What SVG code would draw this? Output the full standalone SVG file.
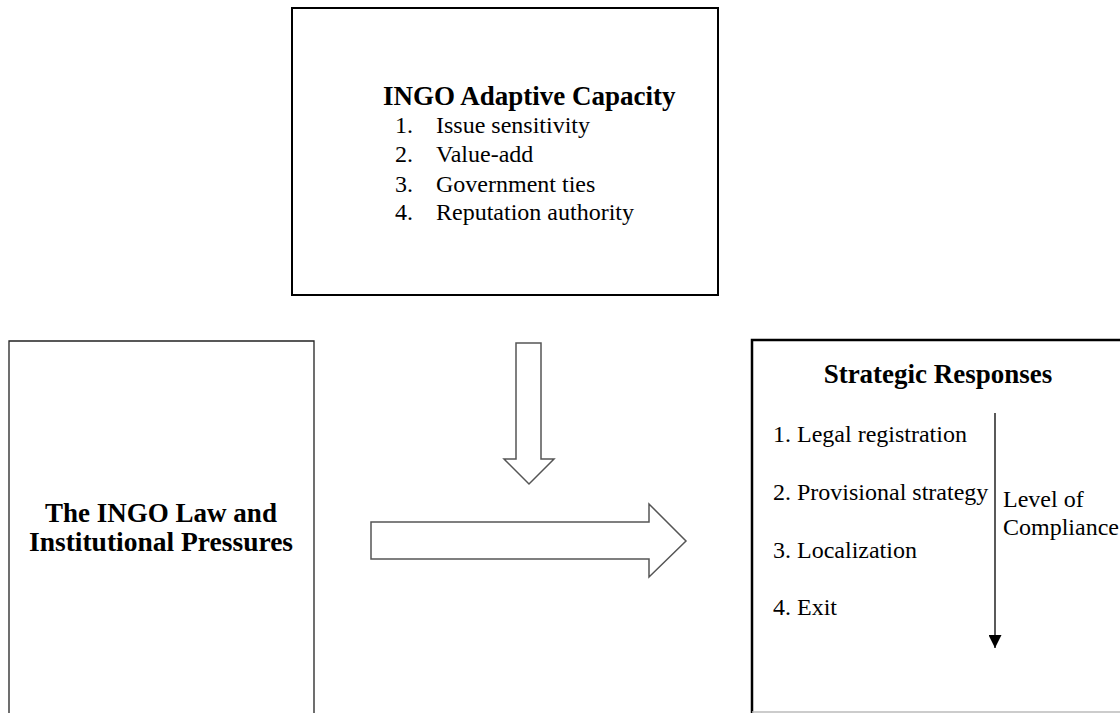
<svg xmlns="http://www.w3.org/2000/svg" width="1120" height="713" viewBox="0 0 1120 713">
<defs>
<style>
.box{fill:#fff;stroke:#000;stroke-width:2}
.thin{fill:#fff;stroke:#222;stroke-width:1.3}
.blk{fill:#fff;stroke:#555;stroke-width:1.5;stroke-linejoin:miter}
text{fill:#000}
.b{font-family:'Liberation Serif','Times New Roman',serif;font-weight:bold;font-size:27px}
.r{font-size:24px}
</style>
<marker id="tri" viewBox="0 0 10 10" refX="10" refY="5" markerWidth="13" markerHeight="13" markerUnits="userSpaceOnUse" orient="auto">
<path d="M0,0 L10,5 L0,10 z" fill="#000"/>
</marker>
</defs>
<rect width="1120" height="713" fill="#fff"/>
<g id="capacity">
<rect class="box" x="292" y="8" width="426" height="287"/>
<text class="b" x="383" y="105">INGO Adaptive Capacity</text>
<g font-family="Tinos, Times, serif">
<text class="r" x="395" y="133">1.</text><text class="r" x="436" y="133">Issue sensitivity</text>
<text class="r" x="395" y="162">2.</text><text class="r" x="436" y="162">Value-add</text>
<text class="r" x="395" y="192">3.</text><text class="r" x="436" y="192">Government ties</text>
<text class="r" x="395" y="220">4.</text><text class="r" x="436" y="220">Reputation authority</text>
</g>
</g>
<g id="law">
<path class="thin" d="M9,713 V341 H314 V713"/>
<text class="b" x="161" y="522" text-anchor="middle">The INGO Law and</text>
<text class="b" x="161" y="551" text-anchor="middle" style="font-size:27.5px">Institutional Pressures</text>
</g>
<g id="responses">
<path d="M752,713 V340 H1121" fill="#fff" stroke="#000" stroke-width="2.5"/>
<line x1="752" y1="712" x2="1120" y2="712" stroke="#bbb" stroke-width="1.5"/>
<text class="b" x="938" y="383" text-anchor="middle">Strategic Responses</text>
<g font-family="Tinos, Times, serif">
<text class="r" x="773" y="442">1. Legal registration</text>
<text class="r" x="773" y="500">2. Provisional strategy</text>
<text class="r" x="773" y="558">3. Localization</text>
<text class="r" x="773" y="615">4. Exit</text>
<text class="r" x="1003" y="507">Level of</text>
<text class="r" x="1003" y="535">Compliance</text>
</g>
</g>
<g id="connectors">
<path class="blk" d="M516,343 H541 V459 H554 L529,484 L504,459 H516 Z"/>
<path class="blk" d="M371,522 H649 V504 L686,541 L649,577 V559 H371 Z"/>
<line x1="995" y1="413" x2="995" y2="648" stroke="#000" stroke-width="1.3" marker-end="url(#tri)"/>
</g>
</svg>
